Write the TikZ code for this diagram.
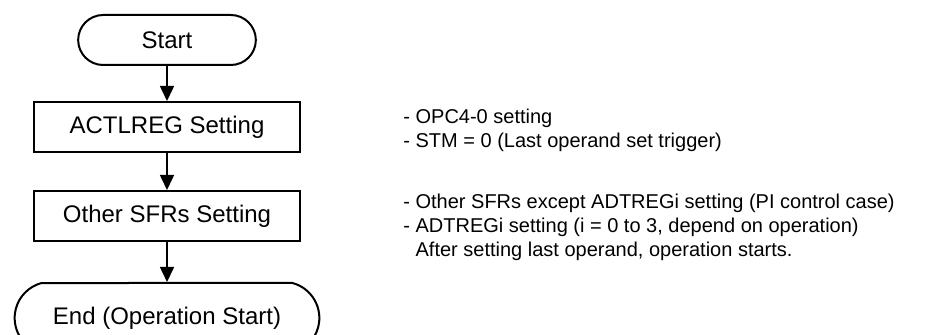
\documentclass[tikz,border=0pt]{standalone}
\usepackage{fontspec}
\setmainfont{Liberation Sans}
\usetikzlibrary{arrows.meta,shapes.misc,positioning}

\begin{document}
\begin{tikzpicture}[x=0.5pt,y=-0.5pt,
  term/.style={rounded rectangle, draw, line width=1pt, minimum height=25pt, font=\fontsize{12}{14}\selectfont},
  stepbox/.style={rectangle, draw, line width=1pt, minimum width=133pt, minimum height=25pt, font=\fontsize{12}{14}\selectfont},
  note/.style={anchor=west, align=left, inner sep=0pt, font=\fontsize{10}{12}\selectfont},
  flow/.style={line width=0.8pt, -{Triangle[length=7.5pt,width=7pt]}}]
\clip (0,0) rectangle (929,335);

% flow
\node [term, minimum width=95.5pt] (start) at (167,40) {Start};
\node [stepbox] (actl) at (167,127) {ACTLREG Setting};
\node [stepbox] (sfrs) at (167,216) {Other SFRs Setting};
\node [term, minimum width=159pt, minimum height=35pt, rounded rectangle arc length=150] (end) at (167,318) {End (Operation Start)};

\draw [flow] (start) -- (actl);
\draw [flow] (actl) -- (sfrs);
\draw [flow] (sfrs) -- (end);

% notes
\node [note] (actlnote) at (403,130) {- OPC4-0 setting\\- STM = 0 (Last operand set trigger)};
\node [note] (sfrsnote) at (403,227) {- Other SFRs except ADTREGi setting (PI control case)\\- ADTREGi setting (i = 0 to 3, depend on operation)\\\phantom{- }After setting last operand, operation starts.};

\end{tikzpicture}
\end{document}
